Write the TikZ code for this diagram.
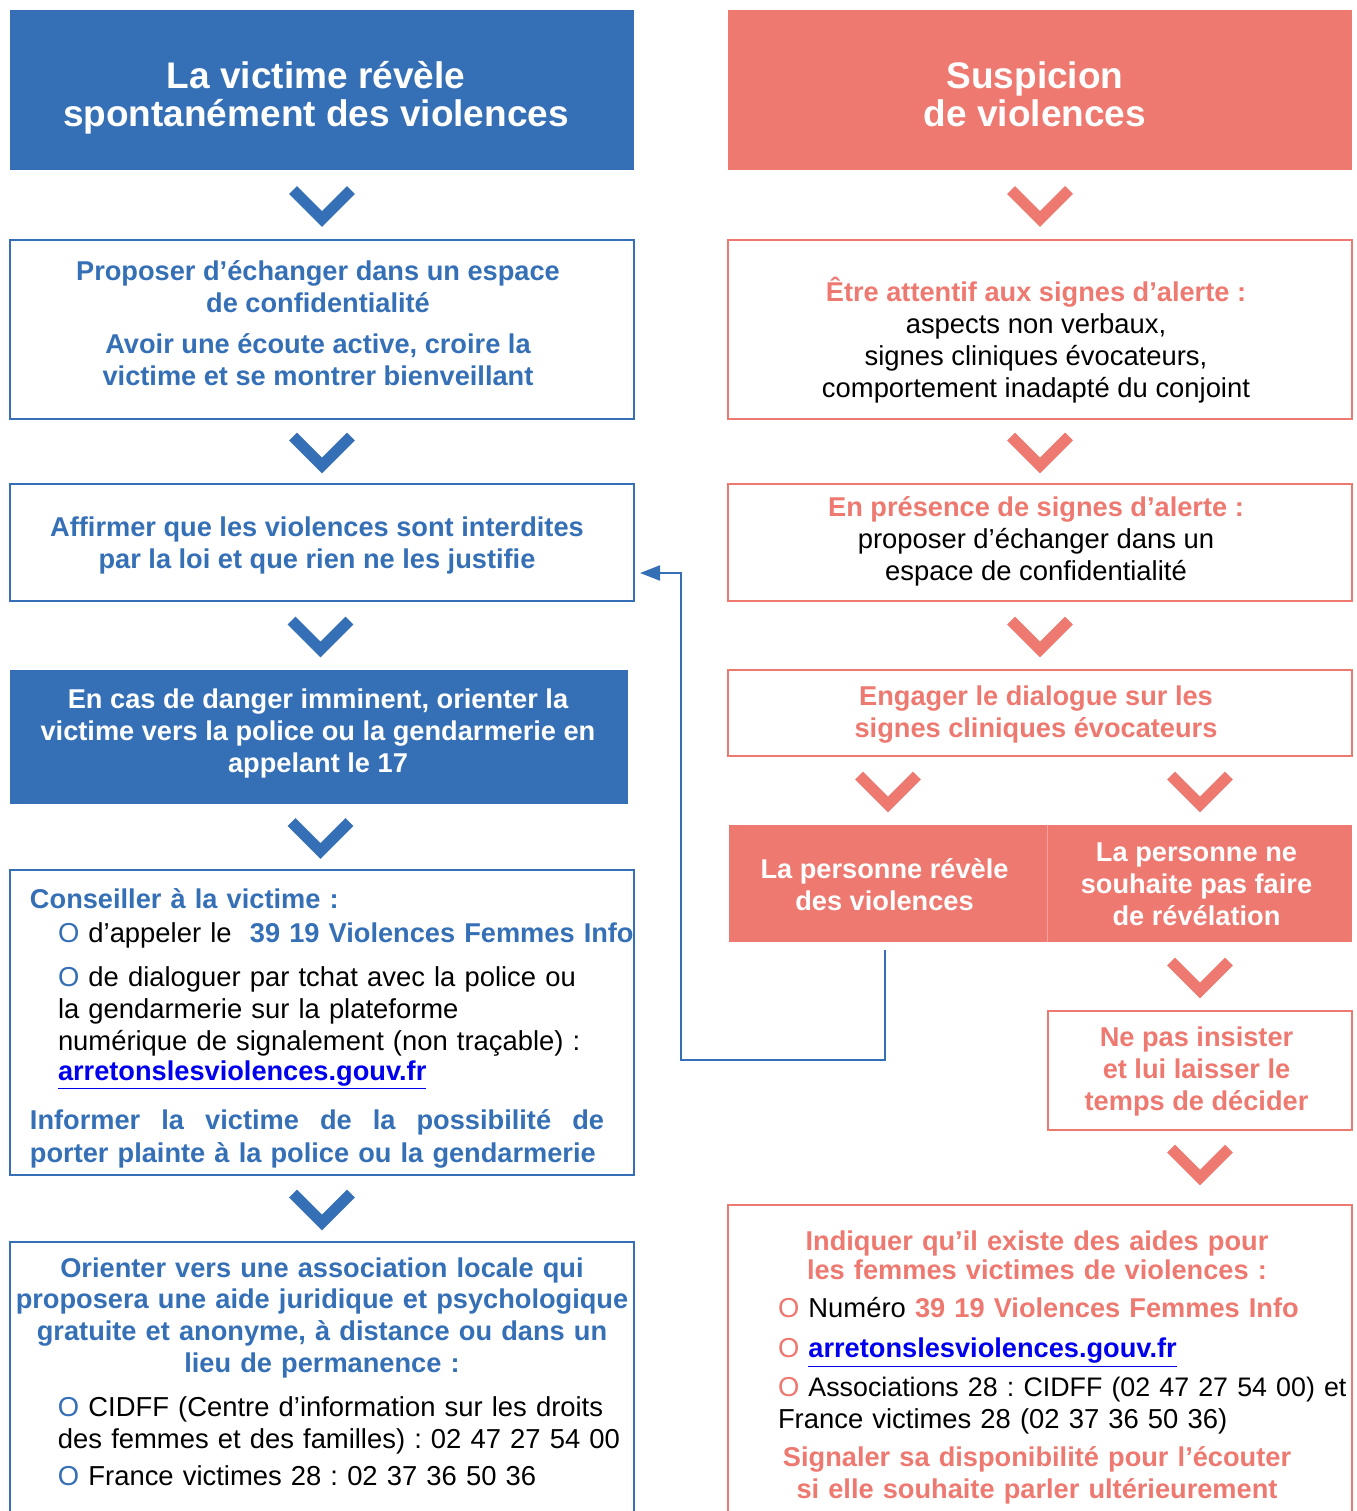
\documentclass[tikz,border=0pt]{standalone}
\usepackage{fontspec}
\setmainfont{Liberation Sans}
\usepackage{xcolor}
\usetikzlibrary{calc,arrows.meta}
\frenchspacing

\definecolor{flowblue}{RGB}{53,112,183}
\definecolor{flowred}{RGB}{238,121,112}
\definecolor{linkblue}{RGB}{0,0,238}

\newcommand\puce[1]{\textcolor{#1}{O}}
\newcommand\bleu[1]{\textcolor{flowblue}{\bfseries\fontsize{13.6}{15.9}\selectfont #1}}
\newcommand\rouge[1]{\textcolor{flowred}{\bfseries\fontsize{13.6}{15.9}\selectfont #1}}
\newcommand\siteweb{\textcolor{linkblue}{\bfseries\fontsize{13.6}{15.9}\selectfont\underline{arretonslesviolences.gouv.fr}}}
\newcommand\chevron[2]{%
  \draw[#2, line width=5.5pt, line join=miter]
    ($#1+(-29,-15)$) -- ($#1+(0,14)$) -- ($#1+(29,-15)$);}

\begin{document}
\begin{tikzpicture}[x=0.5pt, y=-0.5pt,
  every node/.style={inner sep=0pt, outer sep=0pt},
  filled/.style={fill=#1},
  framed/.style={draw=#1, fill=white, line width=1.2pt},
  titletext/.style={anchor=base, align=center, text=white, font=\bfseries\fontsize{18.5}{19}\selectfont},
  bodytext/.style={anchor=base, align=center, font=\fontsize{13.7}{15.9}\selectfont},
  boldtext/.style={bodytext, text=#1, font=\bfseries\fontsize{13.6}{15.9}\selectfont},
  feedback/.style={flowblue, line width=1pt, -{Triangle[length=10pt, width=7.5pt]}}
]
\useasboundingbox (0,0) rectangle (1356,1511);
\clip (0,0) rectangle (1356,1511);

% left column
\node[filled=flowblue, minimum width=312pt, minimum height=80pt] (L1) at (322,90) {};
\node[titletext] (L1t) at (316,126) {La victime révèle\\spontanément des violences};

\node[framed=flowblue, minimum width=312pt, minimum height=89.5pt] (L2) at (322,329.5) {};
\node[boldtext=flowblue] (L2t) at (318,385) {Proposer d’échanger dans un espace\\de confidentialité\\[4.5pt]Avoir une écoute active, croire la\\victime et se montrer bienveillant};

\node[framed=flowblue, minimum width=312pt, minimum height=58.5pt] (L3) at (322,542.5) {};
\node[boldtext=flowblue] (L3t) at (317,568) {Affirmer que les violences sont interdites\\par la loi et que rien ne les justifie};

\node[filled=flowblue, minimum width=309pt, minimum height=67pt] (L4) at (319,737) {};
\node[boldtext=white] (L4t) at (318,772) {En cas de danger imminent, orienter la\\victime vers la police ou la gendarmerie en\\appelant le 17};

\node[framed=flowblue, minimum width=312pt, minimum height=152.5pt] (L5) at (322,1022.5) {};
\node[bodytext, anchor=base west, align=left, text width=310pt] (L5t) at (30,908) {%
\bleu{Conseiller à la victime :}\\[1.5pt]
\hspace*{14pt}\puce{flowblue} d’appeler le\ \ \bleu{39 19 Violences Femmes Info}\\[6pt]
\hspace*{14pt}\puce{flowblue} de dialoguer par tchat avec la police ou\\
\hspace*{14pt}la gendarmerie sur la plateforme\\
\hspace*{14pt}numérique de signalement (non traçable) :\\[-1pt]
\hspace*{14pt}\siteweb\\[9pt]
\bleu{\hbox to 287pt{Informer\hfill la\hfill victime\hfill de\hfill la\hfill possibilité\hfill de}}\\[0.5pt]
\bleu{porter plainte à la police ou la gendarmerie}};

\node[framed=flowblue, minimum width=312pt, minimum height=144pt] (L6) at (322,1386) {};
\node[bodytext, text width=320pt] (L6t) at (322,1277) {%
\bleu{Orienter vers une association locale qui}\\
\bleu{proposera une aide juridique et psychologique}\\
\bleu{gratuite et anonyme, à distance ou dans un}\\
\bleu{lieu de permanence :}\\[6pt]
\makebox[320pt][l]{\hspace{28pt}\puce{flowblue} CIDFF (Centre d’information sur les droits}\\
\makebox[320pt][l]{\hspace{28pt}des femmes et des familles) : 02 47 27 54 00}\\[3pt]
\makebox[320pt][l]{\hspace{28pt}\puce{flowblue} France victimes 28 : 02 37 36 50 36}};

% right column
\node[filled=flowred, minimum width=312pt, minimum height=80pt] (R1) at (1040,90) {};
\node[titletext] (R1t) at (1035,126) {Suspicion\\de violences};

\node[framed=flowred, minimum width=312pt, minimum height=89.5pt] (R2) at (1040,329.5) {};
\node[bodytext] (R2t) at (1036,397) {\rouge{Être attentif aux signes d’alerte :}\\aspects non verbaux,\\signes cliniques évocateurs,\\comportement inadapté du conjoint};

\node[framed=flowred, minimum width=312pt, minimum height=58.5pt] (R3) at (1040,542.5) {};
\node[bodytext] (R3t) at (1036,580) {\rouge{En présence de signes d’alerte :}\\proposer d’échanger dans un\\espace de confidentialité};

\node[framed=flowred, minimum width=312pt, minimum height=43pt] (R4) at (1040,713) {};
\node[boldtext=flowred] (R4t) at (1036,737) {Engager le dialogue sur les\\signes cliniques évocateurs};

\node[filled=flowred, minimum width=159pt, minimum height=58.5pt] (R5a) at (888,883.5) {};
\node[filled=flowred, minimum width=152pt, minimum height=58.5pt] (R5b) at (1200,883.5) {};
\draw[flowred!70!white, line width=0.5pt] (R5a.north east) -- (R5a.south east);
\node[boldtext=white] (R5at) at (884.5,910) {La personne révèle\\des violences};
\node[boldtext=white] (R5bt) at (1196.5,925) {La personne ne\\souhaite pas faire\\de révélation};

\node[framed=flowred, minimum width=152pt, minimum height=59.5pt] (R6) at (1200,1070.5) {};
\node[boldtext=flowred] (R6t) at (1196.5,1110) {Ne pas insister\\et lui laisser le\\temps de décider};

\node[framed=flowred, minimum width=312pt, minimum height=162.5pt] (R7) at (1040,1367.5) {};
\node[bodytext, text width=280pt] (R7t) at (1037,1250) {%
\rouge{Indiquer qu’il existe des aides pour}\\[-1pt]
\rouge{les femmes victimes de violences :}\\[3pt]
\makebox[280pt][l]{\hspace{10.5pt}\puce{flowred} Numéro \rouge{39 19 Violences Femmes Info}}\\[4pt]
\makebox[280pt][l]{\hspace{10.5pt}\puce{flowred} \siteweb}\\[3.5pt]
\makebox[280pt][l]{\hspace{10.5pt}\puce{flowred} \fontsize{13.4}{15.9}\selectfont Associations 28 : CIDFF (02 47 27 54 00) et}\\
\makebox[280pt][l]{\hspace{10.5pt}France victimes 28 (02 37 36 50 36)}\\[3.5pt]
\rouge{Signaler sa disponibilité pour l’écouter}\\
\rouge{si elle souhaite parler ultérieurement}};

% chevrons between the steps
\foreach \up/\down in {L1/L2, L2/L3, L3/L4, L4/L5, L5/L6}
  {\chevron{(\up.south)!0.5!(\down.north)}{flowblue}}
\foreach \up/\down in {R1/R2, R2/R3, R3/R4}
  {\chevron{(\up.south)!0.5!(\down.north)}{flowred}}
\chevron{(R4.south -| R5a.north)!0.5!(R5a.north)}{flowred}
\chevron{(R4.south -| R5b.north)!0.5!(R5b.north)}{flowred}
\chevron{(R5b.south)!0.5!(R6.north)}{flowred}
\chevron{(R6.south)!0.5!(R7.north -| R6.south)+(0,-4)}{flowred}

% back to the left column
\coordinate (back) at ($(L3.south east)+(6,-28)$);
\draw[feedback] ($(R5a.south)+(-3,8)$) -- ++(0,110) -| ($(back)+(41,0)$) -- (back);
\end{tikzpicture}
\end{document}
